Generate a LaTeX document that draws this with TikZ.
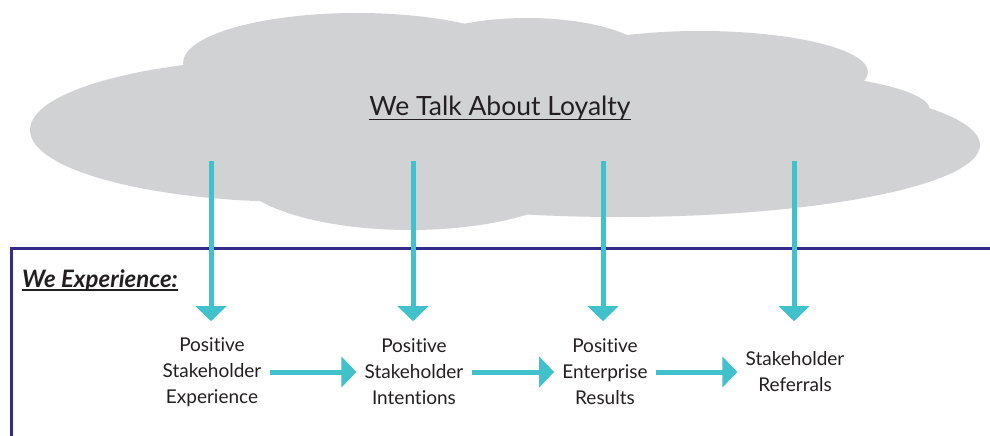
\documentclass[tikz,border=0pt]{standalone}
\usepackage{fontspec}
\setmainfont{Lato}[Ligatures={CommonOff,ContextualOff}]
\usetikzlibrary{arrows.meta}

\definecolor{cloudgray}{RGB}{209,210,212}
\definecolor{flowcyan}{RGB}{64,193,203}
\definecolor{framenavy}{RGB}{52,43,139}
\definecolor{textgray}{RGB}{35,31,32}

\tikzset{
  flow/.style={draw=flowcyan, line width=5pt, -{Triangle[width=30pt,length=15pt]}},
  stage/.style={text=textgray, align=center, inner sep=0pt, font=\fontsize{19}{26}\selectfont},
}

\begin{document}
\begin{tikzpicture}[x=1pt,y=-1pt]

\useasboundingbox (0,0) rectangle (990,436);

% cloud out of overlapping ellipses
\foreach \cx/\cy/\rx/\ry in {300/130/270/72, 357/63/174/50, 527/63/128/45,
    700/72/168/41, 720/110/210/40, 620/145/360/72, 410/170/175/60}
    \fill [cloudgray] (\cx,\cy) ellipse [x radius=\rx pt, y radius=\ry pt];

\node [text=textgray, inner sep=0pt, anchor=base,
       font=\fontsize{26.5}{30}\selectfont] (title) at (500,115) {We Talk About Loyalty};
\draw [textgray, line width=1pt] ([yshift=-4pt]title.base west) -- ([yshift=-4pt]title.base east);

% frame
\draw [framenavy, line width=3pt] (11,436) -- (11,248) -- (990,248);

\node [text=textgray, inner sep=0pt, anchor=base west,
       font=\fontsize{24}{28}\selectfont\bfseries\itshape] (exp) at (22,287) {We Experience:};
\draw [textgray, line width=1.8pt] ([yshift=-3pt]exp.base west) -- ([yshift=-3pt]exp.base east);

\node [stage] (n1) at (212,372) {Positive\\Stakeholder\\Experience};
\node [stage] (n2) at (414,372) {Positive\\Stakeholder\\Intentions};
\node [stage] (n3) at (605,372) {Positive\\Enterprise\\Results};
\node [stage] (n4) at (795,372) {Stakeholder\\Referrals};

\foreach \i/\x in {1/211, 2/413, 3/603, 4/794}
    \coordinate (s\i) at (\x,161);

\foreach \i in {1,...,4}
    \draw [flow, shorten >=16pt] (s\i) -- (s\i |- n1.north);

\draw [flow, shorten <=8pt, shorten >=8pt] (n1) -- (n2);
\draw [flow, shorten <=8pt, shorten >=8pt] (n2) -- (n3);
\draw [flow, shorten <=8pt, shorten >=8pt] (n3) -- (n4);

\end{tikzpicture}
\end{document}
